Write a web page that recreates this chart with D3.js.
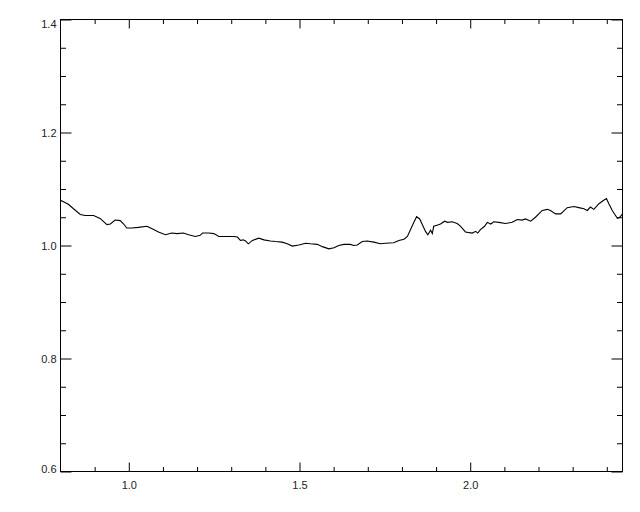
<!DOCTYPE html>
<html>
<head>
<meta charset="utf-8">
<script src="https://cdn.jsdelivr.net/npm/d3@7"></script>
<style>
  body { margin: 0; background: #fff; }
  svg { display: block; }
  .tick text { font-family: "Liberation Sans", Arial, sans-serif; font-size: 11px; fill: #222; }
</style>
</head>
<body>
<div id="chart"></div>
<script>
// wavelength (x) and normalised flux (y)
const xValues = [0.800, 0.823, 0.838, 0.858, 0.872, 0.897, 0.916, 0.936, 0.946, 0.960,
  0.975, 0.985, 0.994, 1.009, 1.028, 1.053, 1.067, 1.087, 1.107, 1.126,
  1.141, 1.160, 1.175, 1.195, 1.209, 1.216, 1.234, 1.249, 1.264, 1.308,
  1.318, 1.327, 1.335, 1.342, 1.350, 1.362, 1.381, 1.396, 1.415, 1.430,
  1.449, 1.464, 1.479, 1.498, 1.518, 1.532, 1.552, 1.567, 1.586, 1.601,
  1.615, 1.630, 1.649, 1.659, 1.669, 1.684, 1.698, 1.718, 1.737, 1.752,
  1.776, 1.791, 1.806, 1.816, 1.825, 1.835, 1.843, 1.852, 1.859, 1.869,
  1.876, 1.884, 1.889, 1.893, 1.903, 1.913, 1.925, 1.934, 1.947, 1.962,
  1.972, 1.986, 2.006, 2.016, 2.022, 2.030, 2.042, 2.050, 2.060, 2.069,
  2.084, 2.103, 2.123, 2.138, 2.152, 2.162, 2.177, 2.191, 2.211, 2.226,
  2.235, 2.250, 2.265, 2.284, 2.304, 2.318, 2.333, 2.343, 2.352, 2.362,
  2.377, 2.391, 2.399, 2.406, 2.416, 2.431, 2.438, 2.446]
const yValues = [1.080, 1.073, 1.065, 1.055, 1.053, 1.053, 1.048, 1.037, 1.038, 1.045,
  1.044, 1.038, 1.031, 1.031, 1.032, 1.034, 1.030, 1.024, 1.019, 1.022,
  1.021, 1.022, 1.019, 1.016, 1.018, 1.022, 1.022, 1.021, 1.016, 1.016,
  1.015, 1.009, 1.010, 1.008, 1.003, 1.009, 1.013, 1.010, 1.008, 1.007,
  1.006, 1.003, 0.999, 1.001, 1.004, 1.003, 1.002, 0.998, 0.994, 0.996,
  1.000, 1.002, 1.002, 1.000, 1.001, 1.007, 1.008, 1.006, 1.003, 1.004,
  1.005, 1.009, 1.011, 1.016, 1.028, 1.041, 1.051, 1.047, 1.038, 1.025,
  1.019, 1.027, 1.021, 1.034, 1.036, 1.038, 1.043, 1.041, 1.042, 1.039,
  1.034, 1.024, 1.022, 1.025, 1.022, 1.028, 1.034, 1.041, 1.038, 1.042,
  1.041, 1.039, 1.041, 1.046, 1.045, 1.047, 1.043, 1.050, 1.062, 1.064,
  1.062, 1.056, 1.056, 1.067, 1.069, 1.067, 1.065, 1.062, 1.068, 1.064,
  1.074, 1.080, 1.083, 1.074, 1.062, 1.048, 1.050, 1.056]

const xMajorTicks = [1.0, 1.5, 2.0]
const xMinorTicks = [0.9, 1.1, 1.2, 1.3, 1.4, 1.6, 1.7, 1.8, 1.9, 2.1, 2.2, 2.3, 2.4]
const yMajorTicks = [0.6, 0.8, 1.0, 1.2, 1.4]
const yMinorTicks = [0.65, 0.7, 0.75, 0.85, 0.9, 0.95, 1.05, 1.1, 1.15, 1.25, 1.3, 1.35]

const data = xValues.map((x, i) => ({ x: x, y: yValues[i] }))

// set Dimensions
const dimensions = {
    width: 640,
    height: 512,
    margin: { top: 19, right: 18, bottom: 41, left: 60 },
}
const ctrW = dimensions.width - dimensions.margin.left - dimensions.margin.right
const ctrH = dimensions.height - dimensions.margin.top - dimensions.margin.bottom

const svg = d3.select('#chart')
    .append('svg')
    .attr('width', dimensions.width)
    .attr('height', dimensions.height)

const ctr = svg.append('g')
    .attr('transform', `translate(${dimensions.margin.left + 0.5}, ${dimensions.margin.top + 0.5})`)

// Scales
const xScale = d3.scaleLinear()
    .domain([0.8, 2.446])
    .range([0, ctrW])

const yScale = d3.scaleLinear()
    .domain([0.6, 1.4])
    .range([ctrH, 0])

// tick lengths like IDL (fraction of the plot)
const xMajLen = 9, xMinLen = 4.5
const yMajLen = 11, yMinLen = 5.5

function axisGroup(axis, transform) {
    const g = ctr.append('g').attr('transform', transform).call(axis)
    g.select('.domain').remove()
    g.selectAll('.tick line').attr('stroke', '#000')
    return g
}

// bottom
axisGroup(d3.axisBottom(xScale).tickValues(xMajorTicks).tickSize(-xMajLen)
    .tickPadding(10).tickFormat(d3.format('.1f')), `translate(0, ${ctrH})`)
axisGroup(d3.axisBottom(xScale).tickValues(xMinorTicks).tickSize(-xMinLen)
    .tickFormat(''), `translate(0, ${ctrH})`)
// top
axisGroup(d3.axisTop(xScale).tickValues(xMajorTicks).tickSize(-xMajLen).tickFormat(''), 'translate(0, 0)')
axisGroup(d3.axisTop(xScale).tickValues(xMinorTicks).tickSize(-xMinLen).tickFormat(''), 'translate(0, 0)')
// left
const yAxisG = axisGroup(d3.axisLeft(yScale).tickValues(yMajorTicks).tickSize(-yMajLen)
    .tickPadding(4).tickFormat(d3.format('.1f')), 'translate(0, 0)')
// end labels sit a little inside the box
yAxisG.selectAll('.tick text')
    .attr('y', d => d === 1.4 ? 4 : d === 0.6 ? -3 : 0)
axisGroup(d3.axisLeft(yScale).tickValues(yMinorTicks).tickSize(-yMinLen).tickFormat(''), 'translate(0, 0)')
// right
axisGroup(d3.axisRight(yScale).tickValues(yMajorTicks).tickSize(-yMajLen).tickFormat(''), `translate(${ctrW}, 0)`)
axisGroup(d3.axisRight(yScale).tickValues(yMinorTicks).tickSize(-yMinLen).tickFormat(''), `translate(${ctrW}, 0)`)

// plot box
ctr.append('rect')
    .attr('width', ctrW)
    .attr('height', ctrH)
    .attr('fill', 'none')
    .attr('stroke', '#000')
    .attr('stroke-width', 1)

// spectrum
const lineGenerator = d3.line()
    .x(d => xScale(d.x))
    .y(d => yScale(d.y))

ctr.append('path')
    .datum(data)
    .attr('d', lineGenerator)
    .attr('fill', 'none')
    .attr('stroke', '#000')
    .attr('stroke-width', 1.1)
</script>
</body>
</html>
